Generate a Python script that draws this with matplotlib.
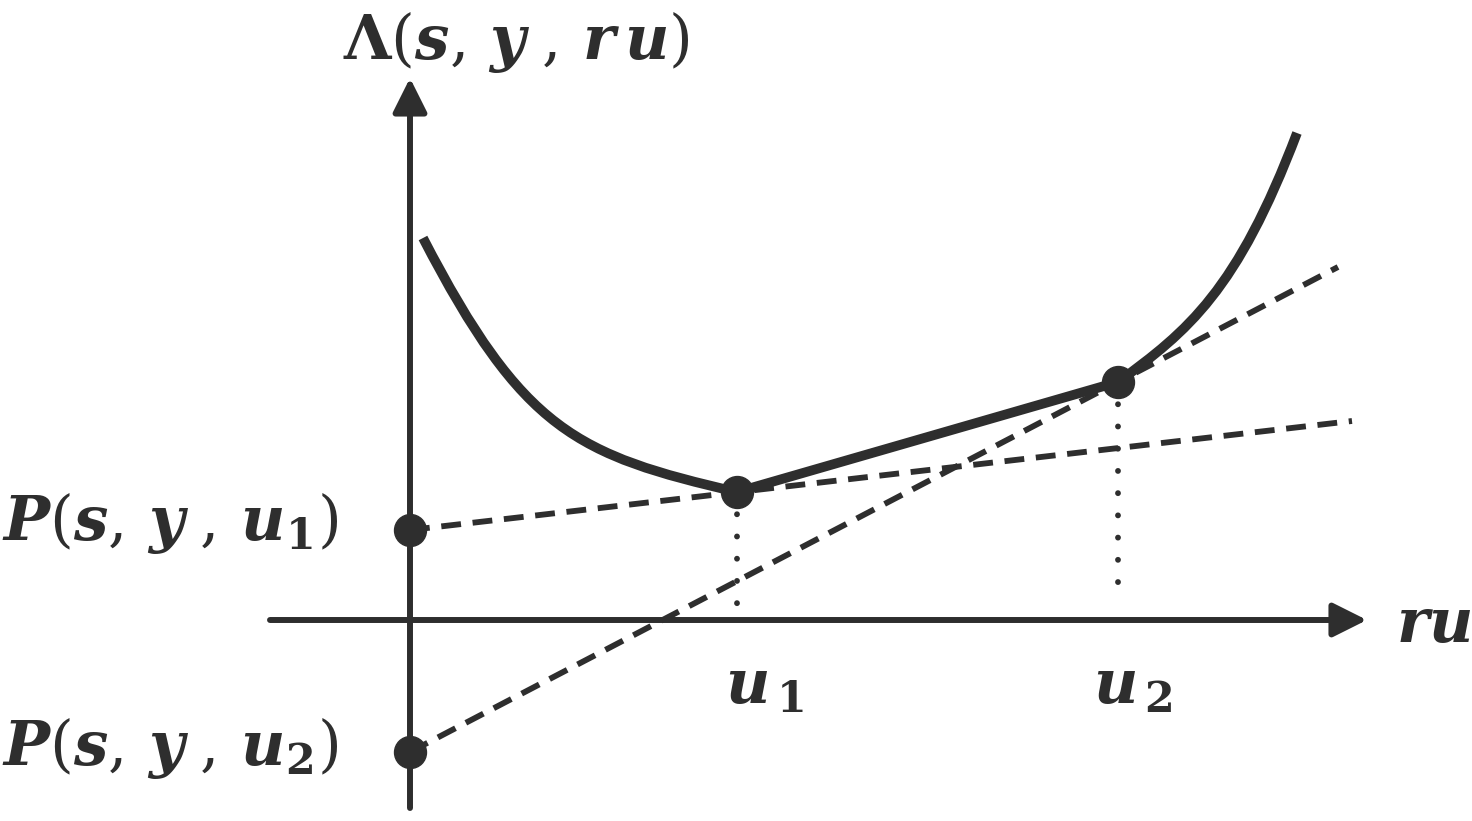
"""
示意图 - 凸包络与切线
"""
import matplotlib
matplotlib.use('Agg')
import matplotlib.pyplot as plt
from matplotlib import rcParams
from matplotlib.path import Path
from matplotlib.patches import PathPatch

rcParams['mathtext.fontset'] = 'dejavuserif'
rcParams['font.family'] = 'DejaVu Serif'

INK = '#2e2e2e'

# 曲线 Λ(s, y, ru)：左段与右段用三次贝塞尔控制点描述（横轴 ru，纵轴 Λ）
left_ctrl_x = [0.13, 1.13, 1.67, 3.27]
left_ctrl_y = [3.82, 1.89, 1.65, 1.28]
chord_x = [3.27, 7.08]
chord_y = [1.28, 2.38]
right_ctrl_x = [7.08, 7.78, 8.27, 8.87]
right_ctrl_y = [2.38, 2.89, 3.29, 4.87]

# 切点 u1, u2 与截距 P(s,y,u1), P(s,y,u2)
u_x = [3.27, 7.08]
u_y = [1.28, 2.38]
p_y = [0.90, -1.32]

# 两条切线的终点
tan1_x = [0.0, 9.42]
tan1_y = [0.90, 1.99]
tan2_x = [0.0, 9.28]
tan2_y = [-1.32, 3.53]

# 垂直点线的下端
drop_y = [0.10, 0.20]


def bezier_patch(xs, ys, lw):
    """由控制点生成三次贝塞尔曲线"""
    verts = list(zip(xs, ys))
    codes = [Path.MOVETO, Path.CURVE4, Path.CURVE4, Path.CURVE4]
    return PathPatch(Path(verts, codes), fill=False, edgecolor=INK, lw=lw,
                     capstyle='butt', zorder=3)


fig = plt.figure(figsize=(14.72, 8.21), dpi=100)
ax = fig.add_axes([0, 0, 1, 1])
ax.set_xlim(-4.10, 10.62)
ax.set_ylim(-2.01, 6.20)
ax.axis('off')

# 坐标轴（带箭头）
arrow = dict(arrowstyle='-|>', lw=4.3, color=INK, mutation_scale=52,
             shrinkA=0, shrinkB=0)
ax.annotate('', xy=(9.57, 0.0), xytext=(-1.40, 0.0), arrowprops=arrow)
ax.annotate('', xy=(0.0, 5.42), xytext=(0.0, -1.88), arrowprops=arrow)

# 切线（虚线）
ax.plot(tan1_x, tan1_y, color=INK, lw=4.2, dashes=(3.4, 2.0), dash_capstyle='butt', zorder=2)
ax.plot(tan2_x, tan2_y, color=INK, lw=4.2, dashes=(3.4, 2.0), dash_capstyle='butt', zorder=2)

# 垂直点线
for x0, y0, y1 in zip(u_x, u_y, drop_y):
    ax.plot([x0, x0], [y0, y1], color=INK, lw=4.2, dashes=(0.01, 3.8),
            dash_capstyle='round', zorder=2)

# 主曲线
ax.add_patch(bezier_patch(left_ctrl_x, left_ctrl_y, 7))
ax.plot(chord_x, chord_y, color=INK, lw=7, solid_capstyle='round', zorder=3)
ax.add_patch(bezier_patch(right_ctrl_x, right_ctrl_y, 7))

# 标记点
ax.plot(u_x, u_y, 'o', color=INK, ms=23, zorder=4)
ax.plot([0.0, 0.0], p_y, 'o', color=INK, ms=23, zorder=4)

# 文本标签
fs = 44
ax.text(-0.67, 5.78, r'$\mathbf{\Lambda}(\mathbfit{s},\,\mathbfit{y}\;,\,\mathbfit{r}\,\mathbfit{u})$',
        fontsize=fs, color=INK, ha='left', va='center')
ax.text(-4.08, 0.97, r'$\mathbfit{P}(\mathbfit{s},\,\mathbfit{y}\;,\,\mathbfit{u}_{\mathbf{1}})$',
        fontsize=fs, color=INK, ha='left', va='center')
ax.text(-4.08, -1.28, r'$\mathbfit{P}(\mathbfit{s},\,\mathbfit{y}\;,\,\mathbfit{u}_{\mathbf{2}})$',
        fontsize=fs, color=INK, ha='left', va='center')
ax.text(3.15, -0.66, r'$\mathbfit{u}_{\,\mathbf{1}}$', fontsize=fs, color=INK, ha='left', va='center')
ax.text(6.83, -0.66, r'$\mathbfit{u}_{\,\mathbf{2}}$', fontsize=fs, color=INK, ha='left', va='center')
ax.text(9.86, -0.05, r'$\mathbfit{ru}$', fontsize=fs, color=INK, ha='left', va='center')

plt.savefig('out.png', dpi=100)
plt.close()
